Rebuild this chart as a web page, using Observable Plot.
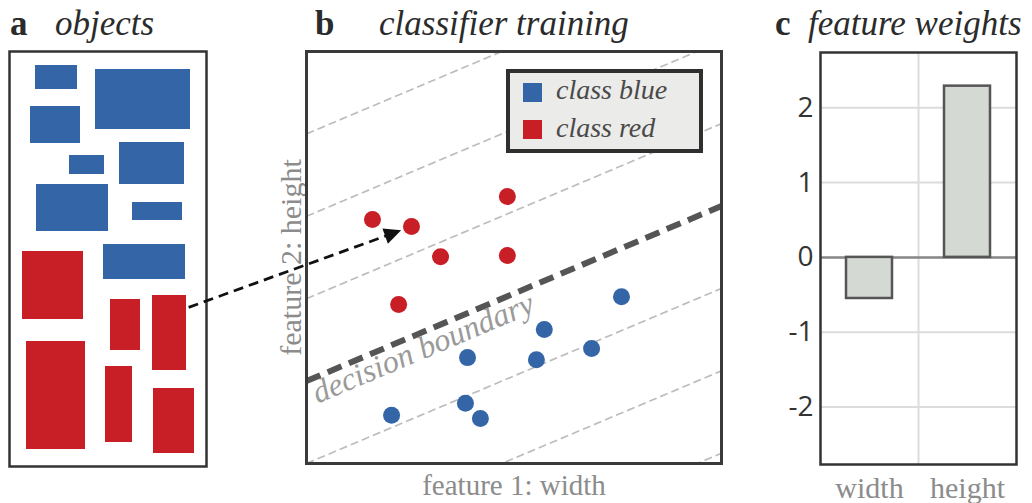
<!DOCTYPE html>
<html><head><meta charset="utf-8">
<script src="https://cdn.jsdelivr.net/npm/d3@7"></script>
<script src="https://cdn.jsdelivr.net/npm/@observablehq/plot@0.6"></script>
<style>
html,body{margin:0;padding:0;background:#fff;}
#fig{position:relative;width:1032px;height:503px;overflow:hidden;font-family:"Liberation Serif",serif;color:#2b2b2b;}
#fig svg{position:absolute;top:0;}
.t{position:absolute;top:6px;font-size:35px;line-height:1;white-space:nowrap;}
.tb{font-weight:bold;}
.ti{font-style:italic;}
#legend{position:absolute;left:506px;top:69px;width:197px;height:84px;box-sizing:border-box;border:4px solid #2f2f2f;background:#ebebe9;}
.sw{position:absolute;left:13px;width:19px;height:19px;}
.lt{position:absolute;left:46px;font-size:28px;line-height:1;font-style:italic;color:#4a4a4a;white-space:nowrap;}
</style>
</head><body>
<div id="fig"></div>
<script>
// ---------- data ----------
// panel a: objects (frame units, y measured downward from frame top)
const objClass = ["blue","blue","blue","blue","blue","blue","blue","blue","red","red","red","red","red","red"];
const objX1 = [26, 86, 21, 60, 110, 27, 123, 94, 13, 101, 143, 17, 96, 144];
const objX2 = [68, 181, 71, 95, 175, 99, 173, 176, 74, 131, 177, 76, 123, 185];
const objY1 = [14, 18, 55, 104, 91, 133, 151, 193, 200, 248, 244, 290, 315, 337];
const objY2 = [38, 78, 92, 123, 133, 180, 169, 228, 268, 299, 319, 398, 391, 402];
const objFrameW = 197, objFrameH = 415;

// panel b: training points (feature 1: width, feature 2: height)
const redX  = [1.59, 2.53, 4.84, 3.23, 4.84, 2.22];
const redY  = [5.92, 5.75, 6.48, 5.02, 5.05, 3.86];
const blueX = [7.59, 5.73, 3.88, 5.54, 6.87, 2.05, 3.83, 4.19];
const blueY = [4.05, 3.25, 2.57, 2.52, 2.79, 1.17, 1.46, 1.09];
const boundarySlope = 0.425;
const boundaryIntercept = 2;
const guideIntercepts = [-6, -4, -2, 0, 4, 6, 8, 10];
const arrowFrom = [-2.84, 3.79];   // from the tall red object in panel a
const arrowTargetIndex = 1;        // red point it maps to
const labelPos = [0.27, 1.45];     // "decision boundary" label start

// panel c: feature weights
const features = ["width", "height"];
const weights = [-0.55, 2.29];

const colors = {blue: "#3465a7", red: "#c81e25"};
const serif = "Liberation Serif";

const fig = document.getElementById("fig");

// ---------- titles ----------
function title(text, left, cls){ const s=document.createElement("span"); s.className="t "+cls; s.style.left=left+"px"; s.textContent=text; fig.appendChild(s); }

// ---------- panel a ----------
const objs = objClass.map((c,i)=>({c, x1:objX1[i], x2:objX2[i], y1:objY1[i], y2:objY2[i]}));
const pa = Plot.plot({
  width: 215, height: 503, marginLeft: 9, marginRight: 9, marginTop: 51, marginBottom: 37,
  x: {domain: [0, objFrameW], axis: null},
  y: {domain: [0, objFrameH], reverse: true, axis: null},
  style: {background: "transparent", overflow: "visible"},
  marks: [
    Plot.rect(objs, {x1: "x1", x2: "x2", y1: "y1", y2: "y2", fill: d => colors[d.c]}),
    Plot.frame({stroke: "#333", strokeWidth: 2.5})
  ]
});
pa.style.left = "0px";
fig.appendChild(pa);

// ---------- panel b ----------
const WB = 730, HB = 503, mL = 306, mR = 9, mT = 51, mBt = 40;
const xDom = [0, 10], yDom = [0, 10];
const kx = (WB - mL - mR) / (xDom[1]-xDom[0]);
const ky = (HB - mT - mBt) / (yDom[1]-yDom[0]);
const pts = [
  ...blueX.map((x,i)=>({x, y: blueY[i], c: "blue"})),
  ...redX.map((x,i)=>({x, y: redY[i], c: "red"}))
];
const lineOf = b => ({x1: xDom[0], y1: b + boundarySlope*xDom[0], x2: xDom[1], y2: b + boundarySlope*xDom[1]});
const guides = guideIntercepts.map(lineOf);
const boundary = [lineOf(boundaryIntercept)];
const angle = -Math.atan(boundarySlope*ky/kx)*180/Math.PI;

// arrow geometry (pixel-consistent)
const tgt = [redX[arrowTargetIndex], redY[arrowTargetIndex]];
const dxp = (tgt[0]-arrowFrom[0])*kx, dyp = -(tgt[1]-arrowFrom[1])*ky;
const len = Math.hypot(dxp, dyp), ux = dxp/len, uy = dyp/len;
const back = px => [tgt[0] - ux*px/kx, tgt[1] + uy*px/ky];
const tip = back(11), base = back(24);
const arrowRot = Math.atan2(dxp, -dyp)*180/Math.PI;

const pb = Plot.plot({
  width: WB, height: HB, marginLeft: mL, marginRight: mR, marginTop: mT, marginBottom: mBt,
  x: {domain: xDom, axis: null},
  y: {domain: yDom, axis: null},
  style: {background: "transparent", overflow: "visible"},
  marks: [
    Plot.link(guides, {x1: "x1", y1: "y1", x2: "x2", y2: "y2", stroke: "#bdbdbd", strokeWidth: 1.7, strokeDasharray: "8,4", clip: true}),
    Plot.link(boundary, {x1: "x1", y1: "y1", x2: "x2", y2: "y2", stroke: "#555", strokeWidth: 6, strokeDasharray: "15,8", clip: true}),
    Plot.text([labelPos], {x: d=>d[0], y: d=>d[1], text: ()=>"decision boundary", rotate: angle, textAnchor: "start", lineAnchor: "bottom", fontSize: 32, fontStyle: "italic", fontFamily: serif, fill: "#9a9a9a"}),
    Plot.dot(pts, {x: "x", y: "y", r: 8.5, fill: d => colors[d.c], stroke: "none"}),
    Plot.text(["feature 1: width"], {frameAnchor: "bottom", text: d=>d, dy: 31, lineAnchor: "bottom", fontSize: 29, fontFamily: serif, fill: "#8c8c8c"}),
    Plot.text(["feature 2: height"], {frameAnchor: "left", text: d=>d, dx: -6, rotate: -90, textAnchor: "middle", lineAnchor: "bottom", fontSize: 30, fontFamily: serif, fill: "#8c8c8c"}),
    Plot.link([{a: arrowFrom, b: base}], {x1: d=>d.a[0], y1: d=>d.a[1], x2: d=>d.b[0], y2: d=>d.b[1], stroke: "#111", strokeWidth: 2.8, strokeDasharray: "10,6"}),
    Plot.vector([tip], {x: d=>d[0], y: d=>d[1], length: 17, rotate: arrowRot, anchor: "end", shape: "spike", r: 8, fill: "#111", stroke: "none"}),
    Plot.frame({stroke: "#3a3a3a", strokeWidth: 3})
  ]
});
pb.style.left = "0px";
fig.appendChild(pb);

// ---------- panel c ----------
const wdata = features.map((f,i)=>({f, i, v: weights[i]}));
const pc = Plot.plot({
  width: 272, height: 503, marginLeft: 60, marginRight: 16, marginTop: 52, marginBottom: 39,
  x: {domain: [-0.5, features.length - 0.5], axis: null},
  y: {domain: [-2.77, 2.74], ticks: 5, tickSize: 0, tickPadding: 7, label: null, tickFormat: d => String(d)},
  style: {background: "transparent", overflow: "visible", fontFamily: "Open Sans", fontSize: "28px", color: "#333"},
  marks: [
    Plot.ruleY(d3.ticks(-2.77, 2.74, 5), {stroke: "#dcdcdc", strokeWidth: 2}),
    Plot.ruleX(features.slice(1).map((_,k)=>k+0.5), {stroke: "#dcdcdc", strokeWidth: 2}),
    Plot.ruleY([0], {stroke: "#888", strokeWidth: 2.5}),
    Plot.rectY(wdata, {x1: d=>d.i-0.5, x2: d=>d.i+0.5, y1: 0, y2: "v", insetLeft: 26, insetRight: 26, fill: "#d4d9d3", stroke: "#555", strokeWidth: 2.5}),
    Plot.text(wdata, {x: "i", frameAnchor: "bottom", text: "f", dy: 33, lineAnchor: "bottom", fontSize: 30, fontFamily: serif, fill: "#8c8c8c"}),
    Plot.frame({stroke: "#333", strokeWidth: 2.5})
  ]
});
pc.style.left = "760px";
fig.appendChild(pc);

// titles
title("a", 10, "tb"); title("objects", 55, "ti");
title("b", 315, "tb"); title("classifier training", 379, "ti");
title("c", 775, "tb"); title("feature weights", 808, "ti");

// legend
const lg = document.createElement("div"); lg.id = "legend";
[["blue","class blue"],["red","class red"]].forEach(([c,t],k)=>{
  const sw=document.createElement("div"); sw.className="sw"; sw.style.background=colors[c]; sw.style.top=(10+k*37)+"px"; lg.appendChild(sw);
  const tx=document.createElement("span"); tx.className="lt"; tx.textContent=t; tx.style.top=(2.5+k*38)+"px"; lg.appendChild(tx);
});
fig.appendChild(lg);
</script>
</body></html>
